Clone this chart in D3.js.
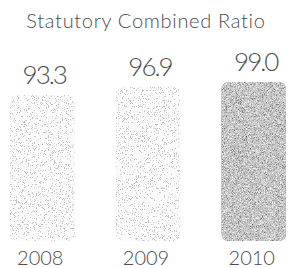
<!DOCTYPE html>
<html>
<head>
<meta charset="utf-8">
<script src="https://cdn.jsdelivr.net/npm/d3@7"></script>
<style>
body{
	margin:0;
	background:#fff;
}
svg text{
	font-family: Lato, "Open Sans", sans-serif;
	font-weight:300;
	fill:#4d4d4d;
}
</style>
</head>
<body>
<svg></svg>
<script>
var width = 288,
    height = 268;

var years = ["2008", "2009", "2010"];
var ratios = [93.3, 96.9, 99.0];
var title = "Statutory Combined Ratio";

var svg = d3.select("svg")
	.attr("width", width)
	.attr("height", height);

// grain textures, clipped to the rounded bar shape
var defs = svg.append("defs");

function grain(id, freq, seed, matrix) {
	var f = defs.append("filter").attr("id", id)
		.attr("x", 0).attr("y", 0).attr("width", 1).attr("height", 1);
	f.append("feTurbulence")
		.attr("type", "fractalNoise")
		.attr("baseFrequency", freq)
		.attr("numOctaves", 2)
		.attr("seed", seed)
		.attr("result", "noise");
	f.append("feColorMatrix")
		.attr("in", "noise")
		.attr("type", "matrix")
		.attr("values", matrix)
		.attr("result", "tone");
	f.append("feComposite").attr("in", "tone").attr("in2", "SourceGraphic")
		.attr("operator", "in").attr("result", "clip");
	var m = f.append("feMerge");
	m.append("feMergeNode").attr("in", "SourceGraphic");
	m.append("feMergeNode").attr("in", "clip");
}

// sparse grey specks on white
grain("grainLight", 2.5, 4, "0 0 0 0 0.55  0 0 0 0 0.55  0 0 0 0 0.55  10 0 0 0 -5.8");
// dense pixel noise in mid grey
grain("grainDark", 2.5, 9, "1.4 0 0 0 -0.14  1.4 0 0 0 -0.14  1.4 0 0 0 -0.14  0 0 0 0 1");

var x = d3.scaleBand()
	.domain(years)
	.range([10, 286])
	.paddingInner(0.39)
	.paddingOuter(0);

var baseline = 241;
var y = d3.scaleLinear()
	.domain([29.3, d3.max(ratios)])
	.range([baseline, 82]);

svg.append("text")
	.attr("x", 146)
	.attr("y", 28)
	.attr("text-anchor", "middle")
	.style("font-size", "20px")
	.style("letter-spacing", "0.7px")
	.text(title);

svg.selectAll(".bar")
	.data(years)
	.enter().append("rect")
	.attr("class", "bar")
	.attr("x", function(d){ return x(d); })
	.attr("width", x.bandwidth())
	.attr("y", function(d, i){ return y(ratios[i]); })
	.attr("height", function(d, i){ return baseline - y(ratios[i]); })
	.attr("rx", 7)
	.style("fill", function(d, i){ return i == 2 ? "#8a8a8a" : "#fafafa"; })
	.attr("filter", function(d, i){ return i == 2 ? "url(#grainDark)" : "url(#grainLight)"; });

svg.selectAll(".val")
	.data(years)
	.enter().append("text")
	.attr("class", "val")
	.attr("x", function(d){ return x(d) + x.bandwidth() / 2 + 2; })
	.attr("y", function(d, i){ return y(ratios[i]) - 11; })
	.attr("text-anchor", "middle")
	.style("font-size", "26px")
	.style("letter-spacing", "-2px")
	.text(function(d, i){ return ratios[i].toFixed(1); });

svg.selectAll(".year")
	.data(years)
	.enter().append("text")
	.attr("class", "year")
	.attr("x", function(d){ return x(d) + x.bandwidth() / 2 - 2; })
	.attr("y", 265)
	.attr("text-anchor", "middle")
	.style("font-size", "20px")
	.text(function(d){ return d; });
</script>
</body>
</html>
